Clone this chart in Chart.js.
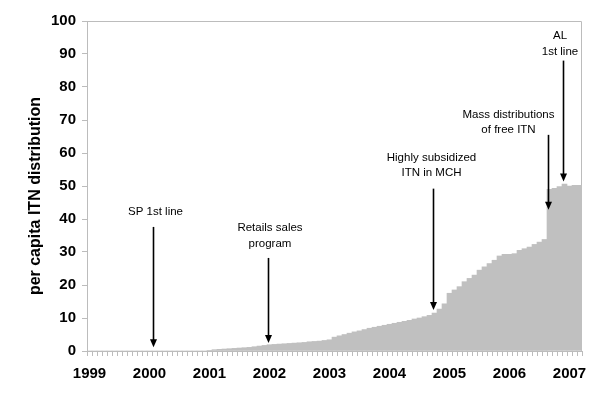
<!DOCTYPE html>
<html>
<head>
<meta charset="utf-8">
<script src="https://cdn.jsdelivr.net/npm/chart.js@4.4.1/dist/chart.umd.min.js"></script>
<style>
    body { margin: 0; background: #fff; }
    canvas { display: block; }
</style>
</head>
<body>
<canvas id="itn-chart" width="600" height="407"></canvas>
<script>
const $ = document.querySelector.bind(document)
const ctx = $("#itn-chart")

// year tick labels, one bar per month from Jan 1999 to Mar 2007
const yearLabels = ["1999", "2000", "2001", "2002", "2003", "2004", "2005", "2006", "2007"]
const monthsInLastYear = 3

// per capita ITN distribution, monthly
const itnPerCapita = [
    0, 0, 0, 0, 0, 0, 0, 0, 0, 0, 0, 0,
    0, 0, 0, 0, 0, 0, 0, 0, 0, 0, 0, 0,
    0.2, 0.4, 0.5, 0.6, 0.7, 0.8, 0.9, 1.0, 1.1, 1.3, 1.5, 1.7,
    1.9, 2.0, 2.1, 2.2, 2.3, 2.4, 2.5, 2.6, 2.8, 2.9, 3.0, 3.2,
    3.4, 4.2, 4.6, 5.0, 5.4, 5.8, 6.1, 6.5, 6.9, 7.2, 7.5, 7.8,
    8.1, 8.4, 8.7, 9.0, 9.3, 9.7, 10.0, 10.4, 10.8, 11.5, 12.7, 14.3,
    17.5, 18.5, 19.5, 21.0, 22.0, 23.0, 24.5, 25.5, 26.5, 27.5, 28.8, 29.3,
    29.3, 29.5, 30.5, 31.0, 31.5, 32.3, 33.0, 33.8, 49.0, 49.3, 49.8, 50.6,
    50.0, 50.2, 50.2
]

// annotations: text lines, where the arrow points (month index, value)
const noteText = [
    ["SP 1st line"],
    ["Retails sales", "program"],
    ["Highly subsidized", "ITN in MCH"],
    ["Mass distributions", "of free ITN"],
    ["AL", "1st line"]
]
const noteMonth = [12.7, 35.6, 68.6, 91.6, 94.6]
const noteTip = [1.1, 2.4, 12.4, 42.8, 51.4]
const noteTail = [37.6, 28.2, 49.2, 65.5, 88.0]
const noteTextMonth = [13.2, 36.1, 68.4, 83.8, 94.1]
const noteTextValue = [42.1, 37.3, 58.6, 71.6, 95.4]

const months = []
yearLabels.forEach((y, i) => {
    const n = i === yearLabels.length - 1 ? monthsInLastYear : 12
    for (let m = 1; m <= n; m++) months.push(`${y}-${String(m).padStart(2, "0")}`)
})

const axisGray = "#bcbcbc"
const fontFamily = "'Liberation Sans', Arial, sans-serif"

const frame = {
    id: "frame",
    beforeDatasetsDraw(chart) {
        const {ctx, chartArea: a} = chart
        ctx.save()
        ctx.strokeStyle = axisGray
        ctx.lineWidth = 1
        ctx.beginPath()
        ctx.moveTo(a.left, a.top + 0.5)
        ctx.lineTo(a.right - 0.5, a.top + 0.5)
        ctx.lineTo(a.right - 0.5, a.bottom)
        ctx.stroke()
        ctx.restore()
    }
}

const notes = {
    id: "notes",
    afterDraw(chart) {
        const {ctx, scales: {x, y}} = chart
        ctx.save()

        // y axis title
        ctx.translate(36, 196)
        ctx.rotate(-Math.PI / 2)
        ctx.font = `bold 16px ${fontFamily}`
        ctx.fillStyle = "#000"
        ctx.textAlign = "center"
        ctx.textBaseline = "middle"
        ctx.fillText("per capita ITN distribution", 0, 0)
        ctx.setTransform(1, 0, 0, 1, 0, 0)

        ctx.font = `11.5px ${fontFamily}`
        noteText.forEach((lines, i) => {
            const tx = x.getPixelForValue(noteTextMonth[i])
            const ty = y.getPixelForValue(noteTextValue[i])
            lines.forEach((line, j) => ctx.fillText(line, tx, ty + j * 15.5))

            const ax = Math.round(x.getPixelForValue(noteMonth[i])) + 0.5
            const y0 = y.getPixelForValue(noteTail[i])
            const y1 = y.getPixelForValue(noteTip[i])
            ctx.strokeStyle = "#000"
            ctx.lineWidth = 1.6
            ctx.beginPath()
            ctx.moveTo(ax, y0)
            ctx.lineTo(ax, y1 - 6)
            ctx.stroke()
            ctx.beginPath()
            ctx.moveTo(ax - 3.5, y1 - 8)
            ctx.lineTo(ax + 3.5, y1 - 8)
            ctx.lineTo(ax, y1)
            ctx.closePath()
            ctx.fill()
        })
        ctx.restore()
    }
}

new Chart(ctx, {
    type: "bar",
    data: {
        labels: months,
        datasets: [{
            data: itnPerCapita,
            backgroundColor: "#c0c0c0",
            borderWidth: 0,
            barPercentage: 1,
            categoryPercentage: 1
        }]
    },
    options: {
        responsive: false,
        animation: false,
        layout: {
            padding: {top: 21, right: 18, left: 0, bottom: 0}
        },
        scales: {
            x: {
                grid: {
                    offset: true,
                    drawOnChartArea: false,
                    tickLength: 5,
                    color: axisGray
                },
                border: {color: axisGray},
                ticks: {
                    autoSkip: false,
                    maxRotation: 0,
                    padding: 9,
                    color: "#000",
                    font: {family: fontFamily, size: 15, weight: "bold"},
                    callback: (value, index) => index % 12 === 0 ? months[index].slice(0, 4) : ""
                },
                afterFit: (scale) => { scale.height = 56 }
            },
            y: {
                min: 0,
                max: 100,
                grid: {
                    drawOnChartArea: false,
                    tickLength: 5,
                    color: axisGray
                },
                border: {color: axisGray},
                ticks: {
                    stepSize: 10,
                    padding: 6,
                    color: "#000",
                    font: {family: fontFamily, size: 15, weight: "bold"}
                },
                afterFit: (scale) => { scale.width = 87 }
            }
        },
        plugins: {
            legend: {display: false},
            tooltip: {enabled: false}
        }
    },
    plugins: [frame, notes]
})
</script>
</body>
</html>
